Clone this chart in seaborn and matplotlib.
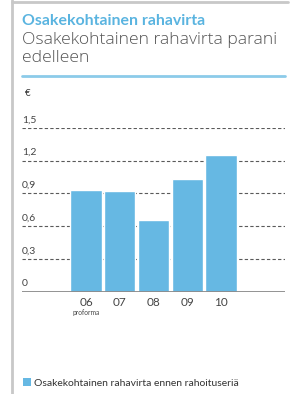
import matplotlib
matplotlib.use("Agg")
import matplotlib.pyplot as plt
import matplotlib.transforms as mtransforms
from matplotlib.lines import Line2D
from matplotlib.patches import Patch
import seaborn as sns
import pandas as pd

years = ["06", "07", "08", "09", "10"]
values = [0.93, 0.92, 0.66, 1.03, 1.25]
yticks = [0, 0.3, 0.6, 0.9, 1.2, 1.5]
ytick_labels = ["0", "0,3", "0,6", "0,9", "1,2", "1,5"]
title = "Osakekohtainen rahavirta"
subtitle_lines = ["Osakekohtainen rahavirta parani", "edelleen"]
legend_label = "Osakekohtainen rahavirta ennen rahoituseriä"
unit = "€"
note = "proforma"

BAR = "#66b8e3"
sns.set_theme(style="white")
plt.rcParams['font.family'] = ['Lato', 'DejaVu Sans']

W, H = 292, 394
fig = plt.figure(figsize=(W / 100, H / 100), dpi=100)
fig.patch.set_facecolor("white")

ax = fig.add_axes([22 / W, 1 - 291.7 / H, 263 / W, 164 / H])
df = pd.DataFrame({"year": years, "value": values})
sns.barplot(data=df, x="year", y="value", color=BAR, saturation=1,
            width=0.93, ax=ax, zorder=2)
ax.set_xlim(-1.9, 5.9)
ax.set_ylim(0, 1.5)
for s in ax.spines.values():
    s.set_visible(False)
ax.set_xlabel("")
ax.set_ylabel("")
ax.set_yticks([])
ax.tick_params(axis="x", length=0, pad=4, labelsize=8.5, labelcolor="#444444")

for y in yticks[1:]:
    ax.axhline(y, color="#5a5a5a", lw=0.8, ls=(0, (3, 2)), zorder=1)
ax.axhline(0, color="#8a8a8a", lw=1.3, zorder=3)

trans = mtransforms.blended_transform_factory(ax.transAxes, ax.transData)
off = mtransforms.offset_copy(trans, fig=fig, x=0, y=2.5, units="points")
for y, lab in zip(yticks, ytick_labels):
    ax.text(0, y, lab, transform=off, ha="left", va="bottom",
            fontsize=7.5, color="#444444")
ax.text(0.01, 1.81, unit, transform=trans, ha="left", va="center",
        fontsize=7, color="#333333", clip_on=False)
ax.text(0, -0.19, note, ha="center", va="center", fontsize=4.8,
        color="#444444", clip_on=False)

# header
fig.text(22 / W, 1 - 21 / H, title, color="#5ab4e0", fontweight="bold",
         fontsize=11.4, ha="left", va="center")
for i, line in enumerate(subtitle_lines):
    fig.text(22 / W, 1 - (40 + 18 * i) / H, line, color="#555555",
             fontsize=12.6, fontweight="light", family=["Open Sans", "DejaVu Sans"],
             ha="left", va="center")
fig.add_artist(Line2D([22 / W, 285 / W], [1 - 76 / H, 1 - 76 / H],
                      color="#8ccbe9", lw=2))

# frame
fig.add_artist(Line2D([12 / W, 12 / W], [0, 1], color="#c8c8c8", lw=2))
fig.add_artist(Line2D([12 / W, 288 / W], [1 - 2 / H, 1 - 2 / H],
                      color="#c8c8c8", lw=2))

fig.legend(handles=[Patch(facecolor=BAR, edgecolor="none")],
           labels=[legend_label], loc="center left",
           bbox_to_anchor=(23 / W, 1 - 383 / H), frameon=False,
           handlelength=0.8, handleheight=0.8, handletextpad=0.3,
           borderaxespad=0, borderpad=0, fontsize=7.5, labelcolor="#333333")

fig.savefig("out.png", dpi=100)
